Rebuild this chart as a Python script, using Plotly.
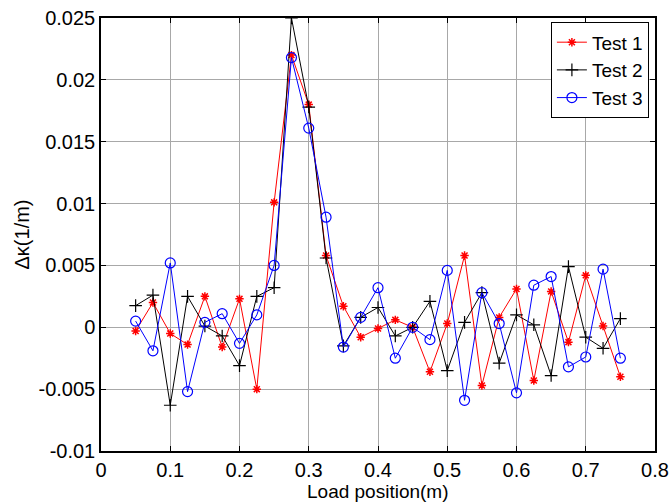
import plotly.graph_objects as go

x = [0.05, 0.075, 0.1, 0.125, 0.15, 0.175, 0.2, 0.225, 0.25, 0.275, 0.3, 0.325, 0.35, 0.375,
     0.4, 0.425, 0.45, 0.475, 0.5, 0.525, 0.55, 0.575, 0.6, 0.625, 0.65, 0.675, 0.7, 0.725, 0.75]

test1 = [-0.0003, 0.002, -0.0005, -0.0014, 0.0025, -0.0016, 0.0023, -0.005, 0.0101, 0.022,
         0.018, 0.0058, 0.0017, -0.0008, -0.0001, 0.0006, 0.0, -0.0036, 0.0003, 0.0058,
         -0.0047, 0.0008, 0.0031, -0.0043, 0.0029, -0.0012, 0.0042, 0.0001, -0.004]

test2 = [0.00175, 0.0026, -0.0063, 0.0025, 0.0001, -0.0007, -0.0031, 0.0025, 0.0032, 0.025,
         0.0178, 0.0056, -0.0015, 0.0008, 0.0016, -0.0007, 0.0, 0.0021, -0.0035, 0.0004,
         0.0028, -0.0029, 0.001, 0.0002, -0.0039, 0.0049, -0.0008, -0.0017, 0.0007]

test3 = [0.0005, -0.0019, 0.0052, -0.0052, 0.0004, 0.0011, -0.0013, 0.001, 0.005, 0.0218,
         0.0161, 0.0089, -0.0016, 0.0008, 0.0032, -0.0025, 0.0, -0.001, 0.0046, -0.0059,
         0.0028, 0.0003, -0.0053, 0.0034, 0.0041, -0.0032, -0.0024, 0.0047, -0.0025]

x_ticks = [0, 0.1, 0.2, 0.3, 0.4, 0.5, 0.6, 0.7, 0.8]
x_labels = ["0", "0.1", "0.2", "0.3", "0.4", "0.5", "0.6", "0.7", "0.8"]
y_ticks = [-0.01, -0.005, 0, 0.005, 0.01, 0.015, 0.02, 0.025]
y_labels = ["-0.01", "-0.005", "0", "0.005", "0.01", "0.015", "0.02", "0.025"]

fig = go.Figure()
fig.add_trace(go.Scatter(x=x, y=test1, name="Test 1", mode="lines+markers",
                         line=dict(color="#ff0000", width=1),
                         marker=dict(symbol="asterisk-open", size=7, color="#ff0000",
                                     line=dict(color="#ff0000", width=1.5))))
fig.add_trace(go.Scatter(x=x, y=test2, name="Test 2", mode="lines+markers",
                         line=dict(color="#000000", width=1),
                         marker=dict(symbol="cross-thin-open", size=9, color="#000000",
                                     line=dict(color="#000000", width=1.2))))
fig.add_trace(go.Scatter(x=x, y=test3, name="Test 3", mode="lines+markers",
                         line=dict(color="#0000ff", width=1),
                         marker=dict(symbol="circle-open", size=10, color="#0000ff",
                                     line=dict(color="#0000ff", width=1.2))))

font = "Liberation Sans, Arial, sans-serif"
fig.update_layout(
    width=669, height=504,
    margin=dict(l=101, r=14, t=18, b=53),
    paper_bgcolor="white", plot_bgcolor="white",
    font=dict(family=font, size=20, color="black"),
    showlegend=True,
    legend=dict(x=0.989, y=0.99, xanchor="right", yanchor="top",
                bgcolor="white", bordercolor="black", borderwidth=1,
                font=dict(size=19), tracegroupgap=0, itemwidth=30),
    annotations=[dict(text="Load position(m)", x=0.5, y=-0.0935, xref="paper", yref="paper",
                      xanchor="center", yanchor="middle", showarrow=False,
                      font=dict(size=19, family=font, color="black"))],
)
fig.update_xaxes(range=[0, 0.8], tickvals=x_ticks, ticktext=x_labels, automargin=False,
                 showgrid=True, gridcolor="#a8a8a8", gridwidth=1,
                 showline=True, linecolor="black", linewidth=1.5, mirror="ticks",
                 ticks="inside", ticklen=5, tickcolor="black", zeroline=False)
fig.update_yaxes(range=[-0.01, 0.025], tickvals=y_ticks, ticktext=y_labels, automargin=False,
                 showgrid=True, gridcolor="#a8a8a8", gridwidth=1,
                 showline=True, linecolor="black", linewidth=1.5, mirror="ticks",
                 ticks="inside", ticklen=5, tickcolor="black", zeroline=False,
                 title=dict(text="Δκ(1/m)", standoff=4, font=dict(size=20)))

fig.write_html("out.html")
